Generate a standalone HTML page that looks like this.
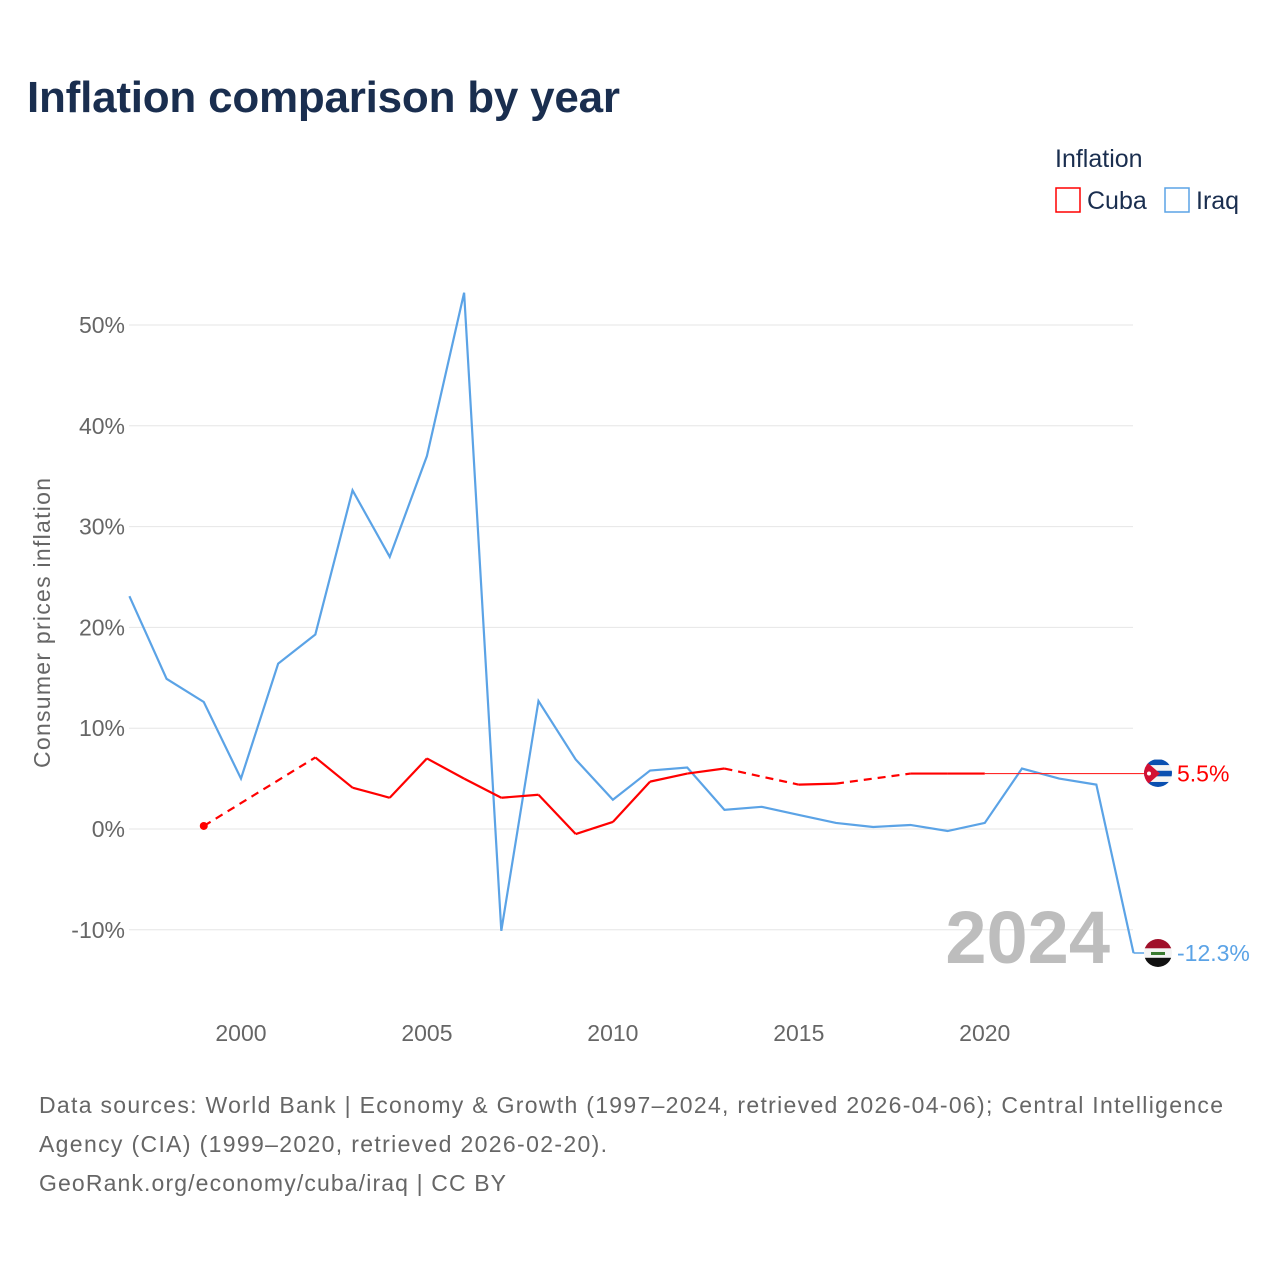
<!DOCTYPE html>
<html><head><meta charset="utf-8">
<style>
body{margin:0;background:#fff;width:1280px;height:1280px;overflow:hidden;font-family:"Liberation Sans",sans-serif}
</style></head>
<body>
<svg id="c" width="1280" height="1280" xmlns="http://www.w3.org/2000/svg">
<defs>
<clipPath id="clcu"><circle cx="1158" cy="773" r="14"/></clipPath>
<clipPath id="cliq"><circle cx="1158" cy="953" r="14"/></clipPath>
</defs>
<text x="27" y="112" font-size="44" font-weight="bold" fill="#1a2e4f" textLength="593">Inflation comparison by year</text>
<text x="1055" y="167" font-size="25" fill="#1a2e4f">Inflation</text>
<g><rect x="1056" y="188" width="24" height="24" fill="none" stroke="#ff0000" stroke-width="1.5"/><text x="1087" y="209" font-size="25" fill="#1a2e4f">Cuba</text></g>
<g><rect x="1165" y="188" width="24" height="24" fill="none" stroke="#5ba3e6" stroke-width="1.5"/><text x="1196" y="209" font-size="25" fill="#1a2e4f">Iraq</text></g>
<text transform="translate(50,623) rotate(-90)" text-anchor="middle" font-size="23" fill="#666" textLength="290">Consumer prices inflation</text>
<g id="grid"></g><g id="ticks"></g>
<text x="1110" y="963" text-anchor="end" font-size="74" font-weight="bold" fill="#bdbdbd">2024</text>
<g id="series"></g>
<g font-size="23" fill="#666">
<text x="39" y="1113" textLength="1184">Data sources: World Bank | Economy &amp; Growth (1997–2024, retrieved 2026-04-06); Central Intelligence</text>
<text x="39" y="1152" textLength="568">Agency (CIA) (1999–2020, retrieved 2026-02-20).</text>
<text x="39" y="1191" textLength="467">GeoRank.org/economy/cuba/iraq | CC BY</text>
</g>
</svg>
<script>
const years=[1997,1998,1999,2000,2001,2002,2003,2004,2005,2006,2007,2008,2009,2010,2011,2012,2013,2014,2015,2016,2017,2018,2019,2020,2021,2022,2023,2024];
const iraq=[23.1,14.9,12.6,5.0,16.4,19.3,33.6,27.0,37.0,53.2,-10.1,12.7,6.9,2.9,5.8,6.1,1.9,2.2,1.4,0.6,0.2,0.4,-0.2,0.6,6.0,5.0,4.4,-12.3];
const cuba=[null,null,0.3,null,null,7.1,4.1,3.1,7.0,5.0,3.1,3.4,-0.5,0.7,4.7,5.5,6.0,null,4.4,4.5,null,5.5,5.5,5.5,null,null,null,null];
const yTicks=[-10,0,10,20,30,40,50];
const xTicks=[2000,2005,2010,2015,2020];
const X=y=>129.4+(y-1997)*37.19;
const Y=v=>829-v*10.08;
const NS="http://www.w3.org/2000/svg";
function mk(t,a,p){const e=document.createElementNS(NS,t);for(const k in a)e.setAttribute(k,a[k]);p.appendChild(e);return e;}
const grid=document.getElementById('grid'),ticks=document.getElementById('ticks'),ser=document.getElementById('series');
yTicks.forEach(v=>{
 const l=mk('line',{x1:129,x2:1133,y1:Y(v),y2:Y(v),stroke:'#e6e6e6','stroke-width':1},grid);
 
 
 const t=mk('text',{x:125,y:Y(v)+8,'text-anchor':'end','font-size':23,fill:'#666'},ticks);t.textContent=v+'%';
 
 
});
xTicks.forEach(y=>{
 const t=mk('text',{x:X(y),y:1041,'text-anchor':'middle','font-size':23,fill:'#666'},ticks);t.textContent=y;
 
 
});
let d='';years.forEach((y,i)=>{d+=(i?'L':'M')+X(y)+','+Y(iraq[i]);});
const ip=mk('path',{d:d,fill:'none',stroke:'#5ba3e6','stroke-width':2.2},ser);


const pts=[];years.forEach((y,i)=>{if(cuba[i]!==null)pts.push([y,cuba[i]]);});
const last=pts[pts.length-1];
const ext=mk('line',{x1:X(last[0]),y1:Y(last[1]),x2:1150,y2:Y(last[1]),stroke:'#ff2a2a','stroke-width':1.2},ser);


for(let k=0;k<pts.length-1;k++){
 const a=pts[k],b=pts[k+1];const gap=b[0]-a[0]>1;
 const s=mk('line',{x1:X(a[0]),y1:Y(a[1]),x2:X(b[0]),y2:Y(b[1]),stroke:'#ff0000','stroke-width':2.2},ser);
 if(gap)s.setAttribute('stroke-dasharray','8,6');
 
 
}
const dot=mk('circle',{cx:X(pts[0][0]),cy:Y(pts[0][1]),r:4,fill:'#ff0000'},ser);


const il=iraq[iraq.length-1];
const ie=mk('line',{x1:X(2024),y1:Y(il),x2:1150,y2:Y(il),stroke:'#5ba3e6','stroke-width':1.5},ser);


function flag(cy,type,name){
 const g=mk('g',{'clip-path':'url(#cl'+type+')'},ser);
 
 
 if(type==='cu'){
  for(let i=0;i<5;i++)mk('rect',{x:1144,y:cy-14+i*5.6,width:28,height:5.7,fill:i%2?'#f4f4f4':'#0a4fb0'},g);
  mk('polygon',{points:`1144,${cy-14} 1144,${cy+14} 1160,${cy}`,fill:'#d21034'},g);
  mk('circle',{cx:1149,cy:cy,r:2,fill:'#fff'},g);
 }else{
  mk('rect',{x:1144,y:cy-14,width:28,height:9.4,fill:'#a0102a'},g);
  mk('rect',{x:1144,y:cy-4.6,width:28,height:9.4,fill:'#f4f4f4'},g);
  mk('rect',{x:1144,y:cy+4.8,width:28,height:9.4,fill:'#111'},g);
  mk('rect',{x:1151,y:cy-1,width:14,height:3,fill:'#3a7a30'},g);
 }
}
flag(Y(last[1]),'cu','cuba-flag');
flag(Y(il),'iq','iraq-flag');
const l1=mk('text',{x:1177,y:Y(last[1])+8,'font-size':23,fill:'#ff0000'},ser);l1.textContent=last[1].toFixed(1)+'%';


const l2=mk('text',{x:1177,y:Y(il)+8,'font-size':23,fill:'#5ba3e6'},ser);l2.textContent=il.toFixed(1)+'%';


</script>
</body></html>
